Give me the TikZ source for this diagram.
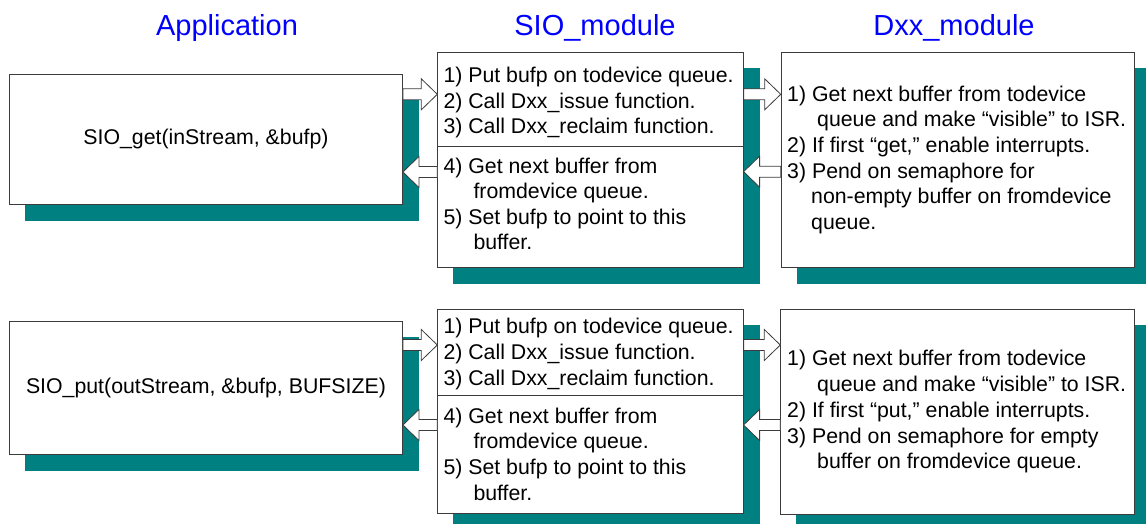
\documentclass[tikz,border=0pt]{standalone}
\usepackage{fontspec}
\setmainfont{Liberation Sans}
\usetikzlibrary{calc,backgrounds}
\definecolor{shadowteal}{RGB}{0,128,128}
\definecolor{titleblue}{RGB}{0,0,255}
\definecolor{edgegray}{RGB}{60,60,60}
\newcommand{\bodyfont}{\fontsize{21.3}{26}\selectfont}
\newcommand{\titlefont}{\fontsize{29}{34}\selectfont}
% block arrow pointing right: from #1 to #2 at height #3
\newcommand\barR[3]{\draw[barrow] let \p1=(#1 |- 0,#3), \p2=(#2 |- 0,#3) in
  (\x1,\y1+5.5pt) -- (\x2-16pt,\y1+5.5pt) -- (\x2-16pt,\y1+15.5pt) -- (\x2,\y1)
  -- (\x2-16pt,\y1-15.5pt) -- (\x2-16pt,\y1-5.5pt) -- (\x1,\y1-5.5pt) -- cycle;}
% block arrow pointing left: from #1 to #2 at height #3
\newcommand\barL[3]{\draw[barrow] let \p1=(#1 |- 0,#3), \p2=(#2 |- 0,#3) in
  (\x1,\y1+5.5pt) -- (\x2+16pt,\y1+5.5pt) -- (\x2+16pt,\y1+15.5pt) -- (\x2,\y1)
  -- (\x2+16pt,\y1-15.5pt) -- (\x2+16pt,\y1-5.5pt) -- (\x1,\y1-5.5pt) -- cycle;}
\tikzset{
  box/.style={draw=edgegray, fill=white, line width=0.9pt, anchor=north west, inner sep=0pt, font=\bodyfont},
  barrow/.style={draw=edgegray, fill=white, line width=0.8pt, line join=miter},
  txt/.style={anchor=base west, inner sep=0pt, font=\bodyfont},
  ttl/.style={anchor=base, inner sep=0pt, font=\titlefont, text=titleblue},
  shadowfill/.style={fill=shadowteal},
}
\begin{document}
\begin{tikzpicture}[x=1pt,y=-1pt]
\useasboundingbox (0,0) rectangle (1146,524);

% titles
\node[ttl] (tapp) at (227,35.5) {Application};
\node[ttl] (tsio) at (595,35.5) {SIO\_module};
\node[ttl] (tdxx) at (954,35.5) {Dxx\_module};

% boxes
\node[box, minimum width=393pt, minimum height=130pt] (app1) at (9,74) {SIO\_get(inStream, \&bufp)};
\node[box, minimum width=393pt, minimum height=133pt] (app2) at (9,321) {SIO\_put(outStream, \&bufp, BUFSIZE)};
\node[box, minimum width=305.4pt, minimum height=214.4pt] (sio1) at (437.3,52.3) {};
\node[box, minimum width=305.4pt, minimum height=204.3pt] (sio2) at (437.3,309) {};
\node[box, minimum width=353.3pt, minimum height=214.4pt] (dxx1) at (780.7,52.3) {};
\node[box, minimum width=354pt, minimum height=204.7pt] (dxx2) at (780.3,309) {};

% shadows
\begin{scope}[on background layer]
\fill[white] (0,0) rectangle (1146,524);
\clip (0,0) rectangle (1146,524);
\foreach \bx in {app1,app2,sio1,sio2,dxx1,dxx2}{
  \fill[shadowfill] ($(\bx.south west)+(16,16)$) rectangle ($(\bx.north east)+(16,16)$);
}
\end{scope}

% dividers in SIO boxes
\draw[draw=edgegray, line width=0.9pt] (sio1.west |- 0,146.7) -- (sio1.east |- 0,146.7);
\draw[draw=edgegray, line width=0.9pt] (sio2.west |- 0,395.7) -- (sio2.east |- 0,395.7);

% SIO texts (top)
\node[txt] (s1a) at (443.3,82.7) {1) Put bufp on todevice queue.};
\node[txt] (s1b) at (443.3,108.3) {2) Call Dxx\_issue function.};
\node[txt] (s1c) at (443.3,134) {3) Call Dxx\_reclaim function.};
\node[txt] (s1d) at (443.3,173.3) {4) Get next buffer from};
\node[txt] (s1e) at (473.3,198.3) {fromdevice queue.};
\node[txt] (s1f) at (443.3,224) {5) Set bufp to point to this};
\node[txt] (s1g) at (473.3,249.3) {buffer.};

% SIO texts (bottom)
\node[txt] (s2a) at (443.3,333.3) {1) Put bufp on todevice queue.};
\node[txt] (s2b) at (443.3,359.3) {2) Call Dxx\_issue function.};
\node[txt] (s2c) at (443.3,385) {3) Call Dxx\_reclaim function.};
\node[txt] (s2d) at (443.3,423.3) {4) Get next buffer from};
\node[txt] (s2e) at (473.3,448.3) {fromdevice queue.};
\node[txt] (s2f) at (443.3,474.3) {5) Set bufp to point to this};
\node[txt] (s2g) at (473.3,500) {buffer.};

% Dxx texts (top)
\node[txt] (d1a) at (787,101.7) {1) Get next buffer from todevice};
\node[txt] (d1b) at (817,126.7) {queue and make “visible” to ISR.};
\node[txt] (d1c) at (787,152.3) {2) If first “get,” enable interrupts.};
\node[txt] (d1d) at (787,178.3) {3) Pend on semaphore for};
\node[txt] (d1e) at (811,204) {non-empty buffer on fromdevice};
\node[txt] (d1f) at (811,229.3) {queue.};

% Dxx texts (bottom)
\node[txt] (d2a) at (787,365) {1) Get next buffer from todevice};
\node[txt] (d2b) at (817,391.7) {queue and make “visible” to ISR.};
\node[txt] (d2c) at (787,417.3) {2) If first “put,” enable interrupts.};
\node[txt] (d2d) at (787,443.3) {3) Pend on semaphore for empty};
\node[txt] (d2e) at (817,468.3) {buffer on fromdevice queue.};

% block arrows
\barR{app1.east}{sio1.west}{94.3}
\barL{sio1.west}{app1.east}{172}
\barR{sio1.east}{dxx1.west}{94.3}
\barL{dxx1.west}{sio1.east}{171.7}
\barR{app2.east}{sio2.west}{345}
\barL{sio2.west}{app2.east}{425}
\barR{sio2.east}{dxx2.west}{345}
\barL{dxx2.west}{sio2.east}{425}
\end{tikzpicture}
\end{document}
